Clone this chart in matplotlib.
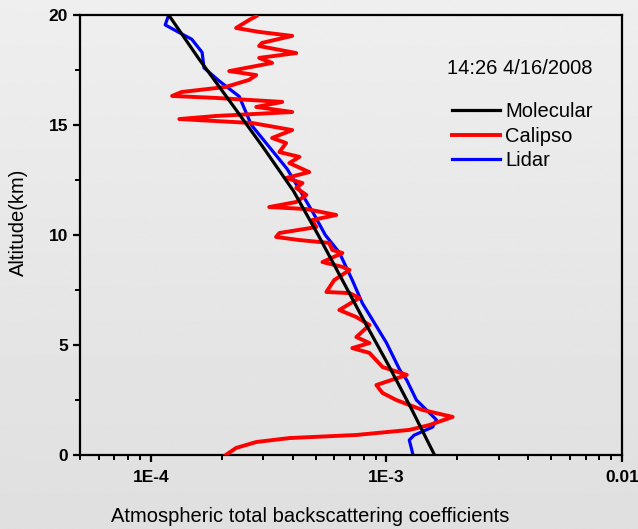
import numpy as np
import matplotlib
matplotlib.use('Agg')
import matplotlib.pyplot as plt
from matplotlib.ticker import FixedLocator, FixedFormatter, LogLocator, NullFormatter, MultipleLocator

plt.rcParams['font.family'] = ['Liberation Sans', 'DejaVu Sans']

# Molecular backscatter (km, coefficient)
mol_alt = [0, 2, 4, 6, 8, 10, 12, 14, 16, 18, 20]
mol_val = [1.60e-3, 1.29e-3, 1.03e-3, 8.13e-4, 6.46e-4, 5.13e-4, 4.03e-4, 2.99e-4, 2.19e-4, 1.60e-4, 1.19e-4]

# Calipso profile
cal_alt = [19.95, 19.77, 19.41, 19.23, 19.05, 18.73, 18.59, 18.27, 18.05, 17.82,
           17.45, 17.27, 17.05, 16.73, 16.5, 16.32, 16.23, 16.05, 15.82, 15.59,
           15.41, 15.27, 15.09, 14.77, 14.41, 14.18, 13.77, 13.55, 13.27, 12.86,
           12.59, 12.36, 12.14, 11.82, 11.5, 11.27, 11.18, 10.91, 10.68, 10.36,
           10.09, 9.91, 9.77, 9.64, 9.32, 9.18, 8.77, 8.55, 8.41, 7.95,
           7.41, 7.36, 7.14, 6.59, 6.27, 5.91, 5.36, 5.09, 4.86, 4.64,
           4.0, 3.64, 3.18, 2.82, 2.5, 2.05, 1.73, 1.36, 1.14, 0.91,
           0.77, 0.59, 0.32, 0.0]
cal_val = [2.80e-4, 2.61e-4, 2.30e-4, 2.88e-4, 3.98e-4, 2.96e-4, 2.88e-4, 4.14e-4, 2.88e-4, 3.27e-4,
           2.15e-4, 2.80e-4, 2.61e-4, 2.08e-4, 1.35e-4, 1.23e-4, 1.89e-4, 3.61e-4, 2.80e-4, 3.98e-4,
           1.89e-4, 1.32e-4, 2.69e-4, 3.98e-4, 3.27e-4, 3.75e-4, 3.51e-4, 4.27e-4, 3.87e-4, 4.70e-4,
           3.75e-4, 4.40e-4, 4.14e-4, 4.57e-4, 4.14e-4, 3.18e-4, 4.57e-4, 6.12e-4, 4.84e-4, 5.04e-4,
           3.51e-4, 3.40e-4, 4.27e-4, 5.71e-4, 5.89e-4, 6.50e-4, 5.35e-4, 6.50e-4, 6.97e-4, 6.0e-4,
           5.56e-4, 6.97e-4, 7.67e-4, 6.31e-4, 7.45e-4, 8.47e-4, 7.45e-4, 8.47e-4, 7.16e-4, 8.47e-4,
           9.62e-4, 1.22e-3, 9.06e-4, 9.62e-4, 1.10e-3, 1.42e-3, 1.91e-3, 1.52e-3, 1.25e-3, 7.45e-4,
           3.87e-4, 2.80e-4, 2.30e-4, 2.08e-4]

# Lidar profile
lid_alt = [20, 19.55, 19.2, 18.9, 18.3, 17.6, 17.0, 16.3, 15.0, 13.0, 11.0, 10.0,
           9.2, 7.95, 6.9, 6.0, 5.1, 3.86, 3.4, 2.5, 1.6, 1.27, 0.9, 0.68, 0.1]
lid_val = [1.19e-4, 1.15e-4, 1.32e-4, 1.49e-4, 1.65e-4, 1.68e-4, 1.95e-4, 2.37e-4, 2.67e-4, 3.79e-4,
           4.89e-4, 5.50e-4, 6.31e-4, 7.16e-4, 7.90e-4, 8.89e-4, 1.0e-3, 1.14e-3, 1.22e-3, 1.34e-3,
           1.63e-3, 1.57e-3, 1.31e-3, 1.25e-3, 1.29e-3]

fig = plt.figure(figsize=(6.38, 5.29), dpi=100)

# soft grey gradient background
bg = fig.add_axes([0, 0, 1, 1], zorder=-10)
grad = np.linspace(0.935, 0.875, 256).reshape(-1, 1)
bg.imshow(grad, aspect='auto', cmap='gray', vmin=0, vmax=1, extent=[0, 1, 0, 1])
bg.axis('off')

ax = fig.add_axes([80/638, 1 - 455/529, 542/638, 440/529])
ax.patch.set_alpha(0)

ax.plot(lid_val, lid_alt, color='#0000ff', lw=2.3, label='Lidar', zorder=2)
ax.plot(cal_val, cal_alt, color='#ff0000', lw=2.8, label='Calipso', zorder=3)
ax.plot(mol_val, mol_alt, color='black', lw=2.3, label='Molecular', zorder=4)

ax.set_xscale('log')
ax.set_xlim(5e-5, 1e-2)
ax.set_ylim(0, 20)

ax.xaxis.set_major_locator(FixedLocator([1e-4, 1e-3, 1e-2]))
ax.xaxis.set_major_formatter(FixedFormatter(['1E-4', '1E-3', '0.01']))
ax.xaxis.set_minor_locator(LogLocator(base=10, subs=np.arange(2, 10)))
ax.xaxis.set_minor_formatter(NullFormatter())
ax.yaxis.set_major_locator(MultipleLocator(5))
ax.yaxis.set_minor_locator(MultipleLocator(2.5))

for s in ax.spines.values():
    s.set_linewidth(1.6)
ax.tick_params(which='major', direction='out', length=5, width=1.6,
               labelsize=12.5, top=False, right=False)
ax.tick_params(axis='x', which='major', pad=6)
ax.tick_params(which='minor', direction='out', length=3.5, width=1.4, top=False, right=False)
for lab in ax.get_xticklabels() + ax.get_yticklabels():
    lab.set_fontweight('bold')

fig.text(18/638, 1 - 222/529, 'Altitude(km)', fontsize=14.5, rotation=90,
         ha='center', va='center')
fig.text(310/638, 1 - 516/529, 'Atmospheric total backscattering coefficients',
         fontsize=14.5, ha='center', va='center')

fig.text(520/638, 1 - 68/529, '14:26 4/16/2008', fontsize=14.5, ha='center', va='center')

h, l = ax.get_legend_handles_labels()
order = [2, 1, 0]
ax.legend([h[i] for i in order], [l[i] for i in order], frameon=False,
          loc='upper left', bbox_to_anchor=(442/638, 1 - 92/529), bbox_transform=fig.transFigure,
          fontsize=14.5, handlelength=2.4, handletextpad=0.25, labelspacing=0.28, borderpad=0)

fig.savefig('out.png', dpi=100)
